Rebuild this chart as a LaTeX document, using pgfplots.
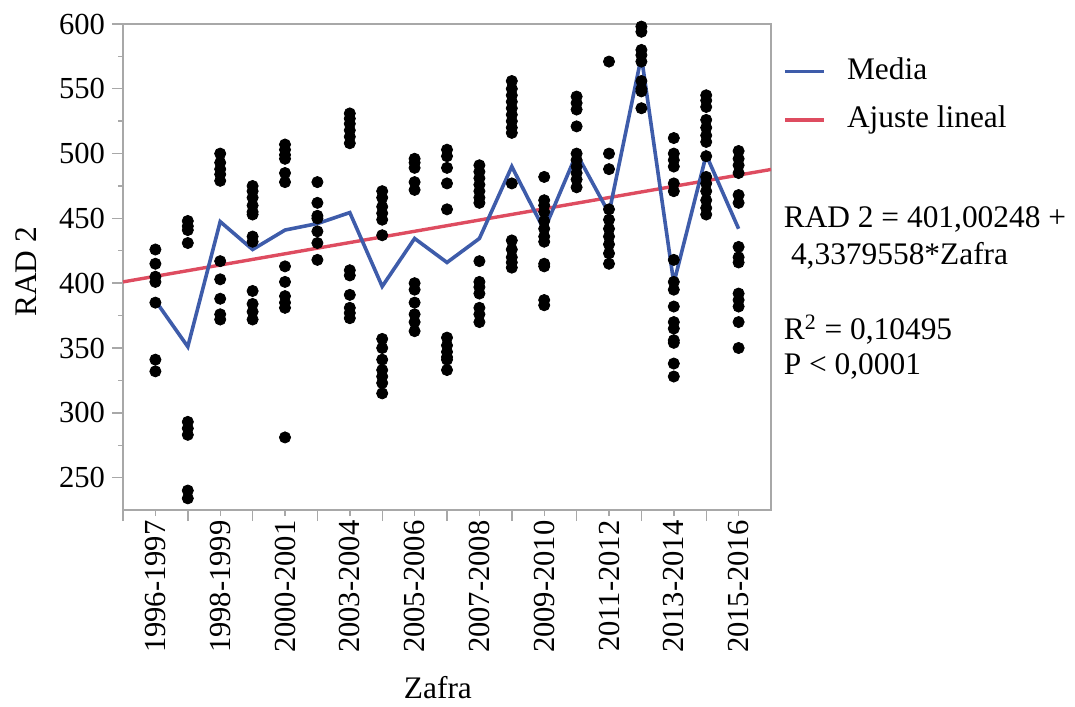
\documentclass[border=0pt]{standalone}
\usepackage{pgfplots}
\pgfplotsset{compat=1.18}
\usepackage{fontspec}
\setmainfont{Liberation Serif}
\setsansfont{Liberation Serif}
\newfontfamily\tnr{Liberation Serif}
\definecolor{axgray}{RGB}{168,168,168}
\definecolor{mblue}{RGB}{62,92,170}
\definecolor{mred}{RGB}{222,76,96}
\newcommand{\tickfont}{\tnr\fontsize{15.3}{18}\selectfont}
\newcommand{\labfont}{\tnr\fontsize{15.7}{19}\selectfont}
\begin{document}
\begin{tikzpicture}[font=\labfont]
\useasboundingbox (-61.5pt,-98pt) rectangle (476pt,255pt);
\begin{axis}[
  scale only axis, width=324pt, height=243pt,
  xmin=-1, xmax=19, ymin=225, ymax=600,
  axis line style={axgray, line width=0.7pt},
  tick style={axgray, line width=0.7pt},
  tick align=outside, tick pos=left,
  major tick length=5.5pt, minor tick length=2.5pt,
  ytick={250,300,...,600}, minor ytick={275,325,...,575},
  xtick={-1,1,...,17}, xticklabels={},
  extra x ticks={0,2,...,18},
  extra x tick labels={1996-1997,1998-1999,2000-2001,2003-2004,2005-2006,2007-2008,2009-2010,2011-2012,2013-2014,2015-2016},
  extra x tick style={major tick length=3pt, tick label style={rotate=90, anchor=east, inner sep=2pt}},
  /pgf/number format/assume math mode=true,
  tick label style={font=\tickfont, black},
  xlabel={Zafra}, ylabel={RAD 2},
  xlabel style={at={(axis description cs:0.486,-0.366)}, anchor=center, font=\labfont},
  ylabel style={at={(axis description cs:-0.1497,0.49)}, anchor=center, font=\labfont},
]
\addplot[only marks, mark=*, mark size=2.8pt, black] table {
x y
0 426
0 415
0 405
0 401
0 385
0 341
0 332
1 448
1 444
1 441
1 431
1 293
1 288
1 283
1 240
1 234
2 500
2 493
2 488
2 484
2 479
2 417
2 403
2 388
2 376
2 372
3 475
3 471
3 466
3 460
3 455
3 453
3 436
3 432
3 394
3 384
3 378
3 372
4 507
4 503
4 499
4 496
4 485
4 478
4 413
4 401
4 390
4 385
4 381
4 281
5 478
5 462
5 452
5 450
5 440
5 431
5 418
6 531
6 527
6 523
6 518
6 513
6 508
6 410
6 406
6 391
6 381
6 377
6 373
7 471
7 466
7 459
7 454
7 449
7 437
7 357
7 350
7 341
7 333
7 328
7 323
7 315
8 496
8 493
8 489
8 478
8 472
8 400
8 395
8 385
8 376
8 370
8 363
9 503
9 498
9 489
9 477
9 457
9 358
9 352
9 347
9 343
9 341
9 333
10 491
10 486
10 481
10 476
10 471
10 466
10 462
10 417
10 401
10 397
10 392
10 381
10 376
10 370
11 556
11 550
11 545
11 540
11 535
11 530
11 525
11 520
11 516
11 477
11 433
11 426
11 420
11 416
11 412
12 482
12 464
12 460
12 455
12 448
12 442
12 436
12 432
12 415
12 413
12 387
12 383
13 544
13 539
13 534
13 521
13 500
13 495
13 490
13 485
13 480
13 474
14 571
14 500
14 488
14 457
14 449
14 442
14 436
14 430
14 423
14 415
15 598
15 594
15 580
15 576
15 571
15 556
15 550
15 548
15 535
16 512
16 500
16 495
16 490
16 477
16 471
16 418
16 401
16 395
16 382
16 370
16 365
16 356
16 354
16 338
16 328
17 545
17 541
17 536
17 526
17 520
17 514
17 509
17 498
17 482
17 477
17 471
17 464
17 458
17 453
18 502
18 496
18 491
18 485
18 468
18 462
18 428
18 420
18 416
18 392
18 387
18 382
18 370
18 350
};
\addplot[mred, line width=1.7pt] coordinates {(-1,401.00248) (19,487.7616)};
\addplot[mblue, line width=1.8pt] coordinates {
(0,386.5) (1,351) (2,447.5) (3,426) (4,441) (5,446) (6,454.5) (7,397.5) (8,434.5) (9,416)
(10,434.5) (11,490) (12,441) (13,500) (14,454) (15,575) (16,400) (17,499) (18,442)};
\end{axis}
\draw[mblue, line width=1.8pt] (331pt,219.2pt) -- (350.5pt,219.2pt);
\node[anchor=base west, inner sep=0pt, font=\labfont] at (361.8pt,215pt) {Media};
\draw[mred, line width=1.7pt] (331pt,195pt) -- (350.5pt,195pt);
\node[anchor=base west, inner sep=0pt, font=\labfont] at (361.8pt,191.4pt) {Ajuste lineal};
\node[anchor=base west, inner sep=0pt, font=\labfont] at (330.2pt,141pt) {RAD 2 = 401,00248 +};
\node[anchor=base west, inner sep=0pt, font=\labfont] at (333.8pt,122.5pt) {4,3379558*Zafra};
\node[anchor=base west, inner sep=0pt, font=\labfont] at (330.2pt,85pt) {R\textsuperscript{2} = 0,10495};
\node[anchor=base west, inner sep=0pt, font=\labfont] at (330.2pt,67.5pt) {P < 0,0001};
\end{tikzpicture}
\end{document}
